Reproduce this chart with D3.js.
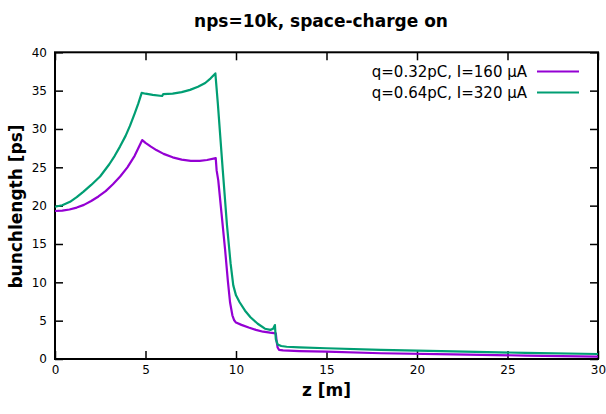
<!DOCTYPE html>
<html>
<head>
<meta charset="utf-8">
<script src="https://cdn.jsdelivr.net/npm/d3@7"></script>
<style>
body { margin: 0; background: #fff; }
svg text { font-family: "DejaVu Sans", sans-serif; }
</style>
</head>
<body>
<div id="chart"></div>
<script>
// bunch length along z
var zLow = [0, 0.4, 0.8, 1.2, 1.6, 2.0, 2.4, 2.8, 3.2, 3.6, 4.0, 4.4, 4.82,
  5.0, 5.3, 5.6, 6.0, 6.5, 7.0, 7.5, 8.0, 8.4, 8.88,
  8.93, 9.02, 9.2, 9.4, 9.55, 9.67, 9.8, 9.9, 10.0, 10.3, 10.7, 11.1, 11.5, 11.88, 12.2,
  12.25, 12.3, 12.38, 12.6, 13.5, 15, 18, 22, 26, 30];
var bLow = [19.3, 19.35, 19.5, 19.75, 20.1, 20.6, 21.2, 21.9, 22.8, 23.8, 25.0, 26.5, 28.55,
  28.2, 27.7, 27.25, 26.75, 26.3, 26.0, 25.85, 25.85, 25.95, 26.2,
  24.6, 23.3, 19.0, 14.2, 10.2, 7.4, 5.7, 5.05, 4.75, 4.45, 4.1, 3.8, 3.56, 3.43, 3.35,
  2.2, 1.5, 1.2, 1.12, 1.04, 0.95, 0.75, 0.6, 0.45, 0.3];

var zHigh = [0, 0.4, 0.83, 1.2, 1.56, 2.0, 2.49, 3.0, 3.3, 3.59, 3.9, 4.14, 4.4, 4.6, 4.79,
  5.0, 5.4, 5.92, 5.98, 6.5, 7.0, 7.46, 7.9, 8.3, 8.6, 8.86,
  9.0, 9.27, 9.5, 9.7, 9.85, 10.0, 10.2, 10.5, 10.8, 11.2, 11.6, 11.9, 12.05, 12.15,
  12.2, 12.3, 12.5, 12.8, 13.5, 15, 18, 22, 26, 30];
var bHigh = [19.86, 20.05, 20.5, 21.1, 21.8, 22.7, 23.8, 25.4, 26.5, 27.7, 29.1, 30.4, 32.0, 33.3, 34.7,
  34.6, 34.45, 34.3, 34.55, 34.6, 34.8, 35.1, 35.5, 36.0, 36.6, 37.25,
  33.2, 24.6, 17.5, 12.5, 9.6, 8.3, 7.4, 6.3, 5.45, 4.6, 3.95, 3.8, 3.95, 4.43,
  2.6, 1.9, 1.7, 1.6, 1.52, 1.4, 1.2, 1.0, 0.8, 0.65];

var seriesNames = ["q=0.32pC, I=160 \u03bcA", "q=0.64pC, I=320 \u03bcA"];
var seriesColors = ["#9400d3", "#009e73"];
var xTicks = [0, 5, 10, 15, 20, 25, 30];
var yTicks = [0, 5, 10, 15, 20, 25, 30, 35, 40];

var W = 606, H = 414;
var pL = 55, pR = 598, pT = 52.3, pB = 359;

var svg = d3.select("#chart").append("svg").attr("width", W).attr("height", H);

var x = d3.scaleLinear().domain([0, 30]).range([pL, pR]);
var y = d3.scaleLinear().domain([0, 40]).range([pB, pT]);

// axes, gnuplot style: ticks pointing inward on all four sides
function tickStyle(g){
  g.select(".domain").remove();
  g.selectAll(".tick line").attr("stroke", "#000").attr("stroke-width", 1.5);
  g.selectAll(".tick text").attr("fill", "#000").style("font-size", "12px");
}

svg.append("g").attr("transform", "translate(0," + pB + ")")
  .call(d3.axisBottom(x).tickValues(xTicks).tickSize(-8).tickPadding(6)).call(tickStyle);
svg.append("g").attr("transform", "translate(" + pL + ",0)")
  .call(d3.axisLeft(y).tickValues(yTicks).tickSize(-8).tickPadding(8)).call(tickStyle);
svg.append("g").attr("transform", "translate(0," + pT + ")")
  .call(d3.axisTop(x).tickValues(xTicks).tickSize(-8).tickFormat("")).call(tickStyle);
svg.append("g").attr("transform", "translate(" + pR + ",0)")
  .call(d3.axisRight(y).tickValues(yTicks).tickSize(-8).tickFormat("")).call(tickStyle);

svg.append("rect")
  .attr("x", pL).attr("y", pT)
  .attr("width", pR - pL).attr("height", pB - pT)
  .attr("fill", "none").attr("stroke", "#000").attr("stroke-width", 2);

// curves
var line = d3.line().x(d => x(d[0])).y(d => y(d[1]));
var series = [d3.zip(zLow, bLow), d3.zip(zHigh, bHigh)];

svg.selectAll(".curve").data(series).enter()
  .append("path")
  .attr("class", "curve")
  .attr("d", line)
  .attr("fill", "none")
  .attr("stroke", (d, i) => seriesColors[i])
  .attr("stroke-width", 2.2)
  .attr("stroke-linejoin", "round");

// legend (no box)
var leg = svg.selectAll(".leg").data(seriesNames).enter()
  .append("g").attr("class", "leg")
  .attr("transform", (d, i) => "translate(0," + (71.5 + i * 21) + ")");
leg.append("text")
  .attr("x", 527).attr("dy", "0.35em")
  .attr("text-anchor", "end")
  .style("font-size", "15px")
  .text(d => d);
leg.append("line")
  .attr("x1", 537).attr("x2", 579)
  .attr("stroke", (d, i) => seriesColors[i])
  .attr("stroke-width", 2.2);

// titles
svg.append("text")
  .attr("x", 321).attr("y", 27)
  .attr("text-anchor", "middle")
  .style("font-size", "17px").style("font-weight", "bold")
  .text("nps=10k, space-charge on");

svg.append("text")
  .attr("x", 326.5).attr("y", 396)
  .attr("text-anchor", "middle")
  .style("font-size", "17px").style("font-weight", "bold")
  .text("z [m]");

svg.append("text")
  .attr("transform", "translate(22," + 206.5 + ") rotate(-90)")
  .attr("text-anchor", "middle")
  .style("font-size", "17px").style("font-weight", "bold")
  .text("bunchlength [ps]");
</script>
</body>
</html>
